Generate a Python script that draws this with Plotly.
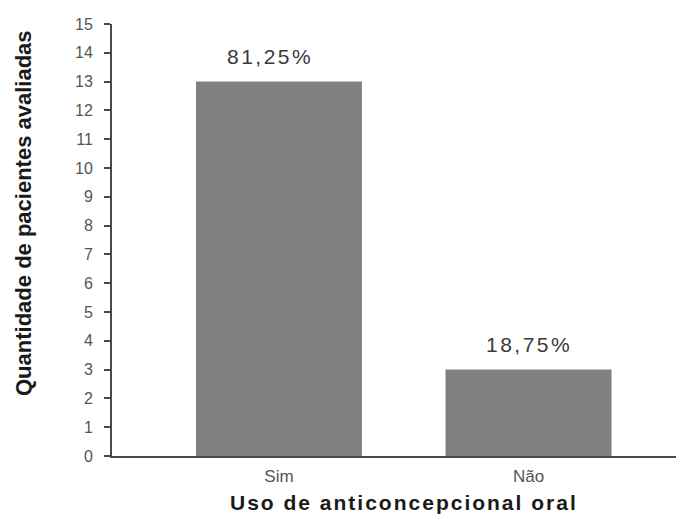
import plotly.graph_objects as go

categories = ["Sim", "Não"]
values = [13, 3]
labels = ["81,25%", "18,75%"]
y_ticks = list(range(0, 16))

BAR = "#808080"
AX = "#4a4a4a"
TXT = "#3a3a3a"
FONT = "Liberation Sans, Arial, sans-serif"

fig = go.Figure()
fig.add_trace(go.Bar(x=categories, y=values, marker=dict(color=BAR, line=dict(width=0)),
                     hoverinfo="skip", showlegend=False))

label_shift = [-9, 0]
for c, v, t, dx in zip(categories, values, labels, label_shift):
    fig.add_annotation(x=c, y=v, text='<span style="letter-spacing:2.5px">%s</span>' % t,
                       showarrow=False, yshift=25, xshift=dx,
                       font=dict(family=FONT, size=21, color=TXT))

fig.add_annotation(xref="paper", yref="paper", x=-0.1556, y=0.5625,
                   text="Quantidade de pacientes avaliadas", textangle=-90,
                   showarrow=False, xanchor="center", yanchor="middle",
                   font=dict(family=FONT, size=22, color="#1a1a1a", weight="bold"))
fig.add_annotation(xref="paper", yref="paper", x=0.5105, y=-0.1065,
                   text='<span style="letter-spacing:2px">Uso de anticoncepcional oral</span>',
                   showarrow=False, xanchor="center", yanchor="middle",
                   font=dict(family=FONT, size=21, color="#1a1a1a", weight="bold"))

fig.update_layout(
    width=676, height=510,
    margin=dict(l=104, r=0, t=16, b=62),
    paper_bgcolor="white", plot_bgcolor="white",
    bargap=0.335,
    xaxis=dict(range=[-0.669, 1.623], showline=True, linecolor=AX, linewidth=2,
               ticks="", showgrid=False, zeroline=False, ticklabelstandoff=4,
               tickfont=dict(family=FONT, size=17, color="#555555")),
    yaxis=dict(range=[0, 15], tickvals=y_ticks, showline=True, linecolor=AX, linewidth=2,
               ticks="outside", ticklen=6, tickcolor=AX, tickwidth=1.5,
               showgrid=False, zeroline=False, ticklabelstandoff=8,
               tickfont=dict(family=FONT, size=16, color="#555555")),
)

fig.write_html("out.html")
